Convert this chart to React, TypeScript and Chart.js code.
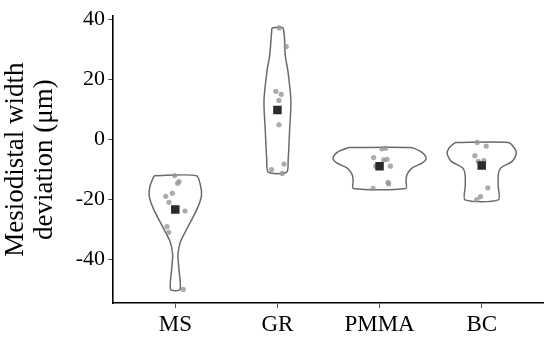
import React, { useEffect, useRef } from "react";
import { Chart, registerables } from "chart.js";

Chart.register(...registerables);

// ---- data ----
const categories = ["MS", "GR", "PMMA", "BC"];
const yTicks = [-40, -20, 0, 20, 40];

// observations (value) and horizontal jitter (in category units)
const msValues = [-12.0, -14.6, -14.0, -17.9, -18.9, -20.9, -23.8, -29.0, -30.9, -49.9];
const msJitter = [-0.006, 0.023, 0.036, -0.029, -0.094, -0.062, 0.095, -0.081, -0.065, 0.078];
const grValues = [37.1, 30.9, 16.0, 15.0, 13.0, 4.9, -10.0, -8.2, -11.3];
const grJitter = [0.018, 0.086, -0.015, 0.037, 0.015, 0.015, -0.058, 0.064, 0.047];
const pmmaValues = [-3.1, -2.9, -6.0, -6.8, -6.6, -8.9, -8.9, -14.3, -14.8, -16.3];
const pmmaJitter = [0.024, 0.06, -0.058, 0.04, 0.073, -0.038, 0.106, 0.083, 0.089, -0.064];
const bcValues = [-1.0, -2.2, -5.4, -7.0, -7.3, -16.1, -19.0, -20.0];
const bcJitter = [-0.044, 0.044, -0.067, 0.021, -0.034, 0.06, -0.012, -0.048];

// group means
const means = [-23.3, 9.8, -8.9, -8.7];

// violin outlines: levels (top to bottom) and half-widths (category units)
const msLevels = [-12.05, -15.4, -18.7, -23.0, -29.5, -33.9, -38.2, -42.6, -49.9];
const msHalf = [0.207, 0.247, 0.256, 0.215, 0.117, 0.052, 0.026, 0.034, 0.046];
const grLevels = [37.1, 28.0, 22.6, 12.8, 3.0, -6.7, -10.9];
const grHalf = [0.054, 0.076, 0.103, 0.132, 0.119, 0.105, 0.09];
const pmmaLevels = [-2.7, -3.8, -5.1, -6.5, -7.8, -9.4, -11.6, -13.8, -16.3];
const pmmaHalf = [0.301, 0.391, 0.44, 0.455, 0.42, 0.323, 0.269, 0.259, 0.257];
const bcLevels = [-1.0, -2.4, -4.6, -7.3, -9.4, -11.6, -15.4, -20.1];
const bcHalf = [0.256, 0.31, 0.339, 0.298, 0.188, 0.163, 0.161, 0.163];

const groupValues = [msValues, grValues, pmmaValues, bcValues];
const groupJitter = [msJitter, grJitter, pmmaJitter, bcJitter];
const violinLevels = [msLevels, grLevels, pmmaLevels, bcLevels];
const violinHalf = [msHalf, grHalf, pmmaHalf, bcHalf];

function outline(center: number, levels: number[], half: number[]) {
  const pts: { x: number; y: number }[] = [];
  pts.push({ x: center - half[0], y: levels[0] });
  for (let i = 0; i < levels.length; i++) pts.push({ x: center + half[i], y: levels[i] });
  for (let i = levels.length - 1; i >= 0; i--) pts.push({ x: center - half[i], y: levels[i] });
  return pts;
}

const FONT = "'Liberation Serif', 'Times New Roman', serif";

export default function App() {
  const ref = useRef<HTMLCanvasElement | null>(null);

  useEffect(() => {
    if (!ref.current) return;
    const datasets: any[] = [];
    categories.forEach((_, i) => {
      datasets.push({
        type: "scatter",
        data: outline(i + 1, violinLevels[i], violinHalf[i]),
        showLine: true,
        fill: false,
        borderColor: "#6a6a6a",
        borderWidth: 1.5,
        tension: 0.25,
        pointRadius: 0,
        order: 3,
      });
    });
    categories.forEach((_, i) => {
      datasets.push({
        type: "scatter",
        data: groupValues[i].map((v, j) => ({ x: i + 1 + groupJitter[i][j], y: v })),
        pointRadius: 2.6,
        pointBackgroundColor: "rgba(150,150,150,0.8)",
        pointBorderWidth: 0,
        order: 2,
      });
    });
    datasets.push({
      type: "scatter",
      data: means.map((m, i) => ({ x: i + 1, y: m })),
      pointStyle: "rect",
      pointRadius: 6,
      pointBackgroundColor: "#2b2b2b",
      pointBorderWidth: 0,
      order: 1,
    });

    const chart = new Chart(ref.current, {
      type: "scatter",
      data: { datasets },
      options: {
        animation: false,
        responsive: false,
        layout: { padding: { left: 0, top: 10, right: 7, bottom: 0 } },
        plugins: { legend: { display: false }, tooltip: { enabled: false } },
        scales: {
          x: {
            type: "linear",
            min: 0.39,
            max: 4.6,
            afterBuildTicks: (s: any) => {
              s.ticks = categories.map((_, i) => ({ value: i + 1 }));
            },
            afterFit: (s: any) => {
              s.height = 36;
            },
            ticks: {
              callback: (v: any) => categories[Math.round(Number(v)) - 1] ?? "",
              font: { family: FONT, size: 23 },
              color: "#000",
              padding: 3,
              maxRotation: 0,
            },
            grid: {
              drawOnChartArea: false,
              drawTicks: true,
              tickLength: 5,
              tickColor: "#555",
              tickWidth: 1,
            },
            border: { display: true, color: "#000", width: 1.6 },
          },
          y: {
            type: "linear",
            min: -54.4,
            max: 41,
            afterBuildTicks: (s: any) => {
              s.ticks = yTicks.map((v) => ({ value: v }));
            },
            afterFit: (s: any) => {
              s.width = 113;
            },
            ticks: {
              font: { family: FONT, size: 22 },
              color: "#000",
              padding: 3,
            },
            grid: {
              drawOnChartArea: false,
              drawTicks: true,
              tickLength: 5,
              tickColor: "#555",
              tickWidth: 1,
            },
            border: { display: true, color: "#000", width: 1.6 },
            title: {
              display: true,
              text: ["Mesiodistal width", "deviation (\u03bcm)"],
              font: { family: FONT, size: 27, lineHeight: 1.05 },
              color: "#000",
              padding: { top: 2, bottom: 0 },
            },
          },
        },
      },
    });
    return () => chart.destroy();
  }, []);

  return (
    <div style={{ position: "fixed", left: 0, top: 0, width: 550, height: 339, background: "#fff" }}>
      <canvas ref={ref} width={550} height={339} />
    </div>
  );
}
